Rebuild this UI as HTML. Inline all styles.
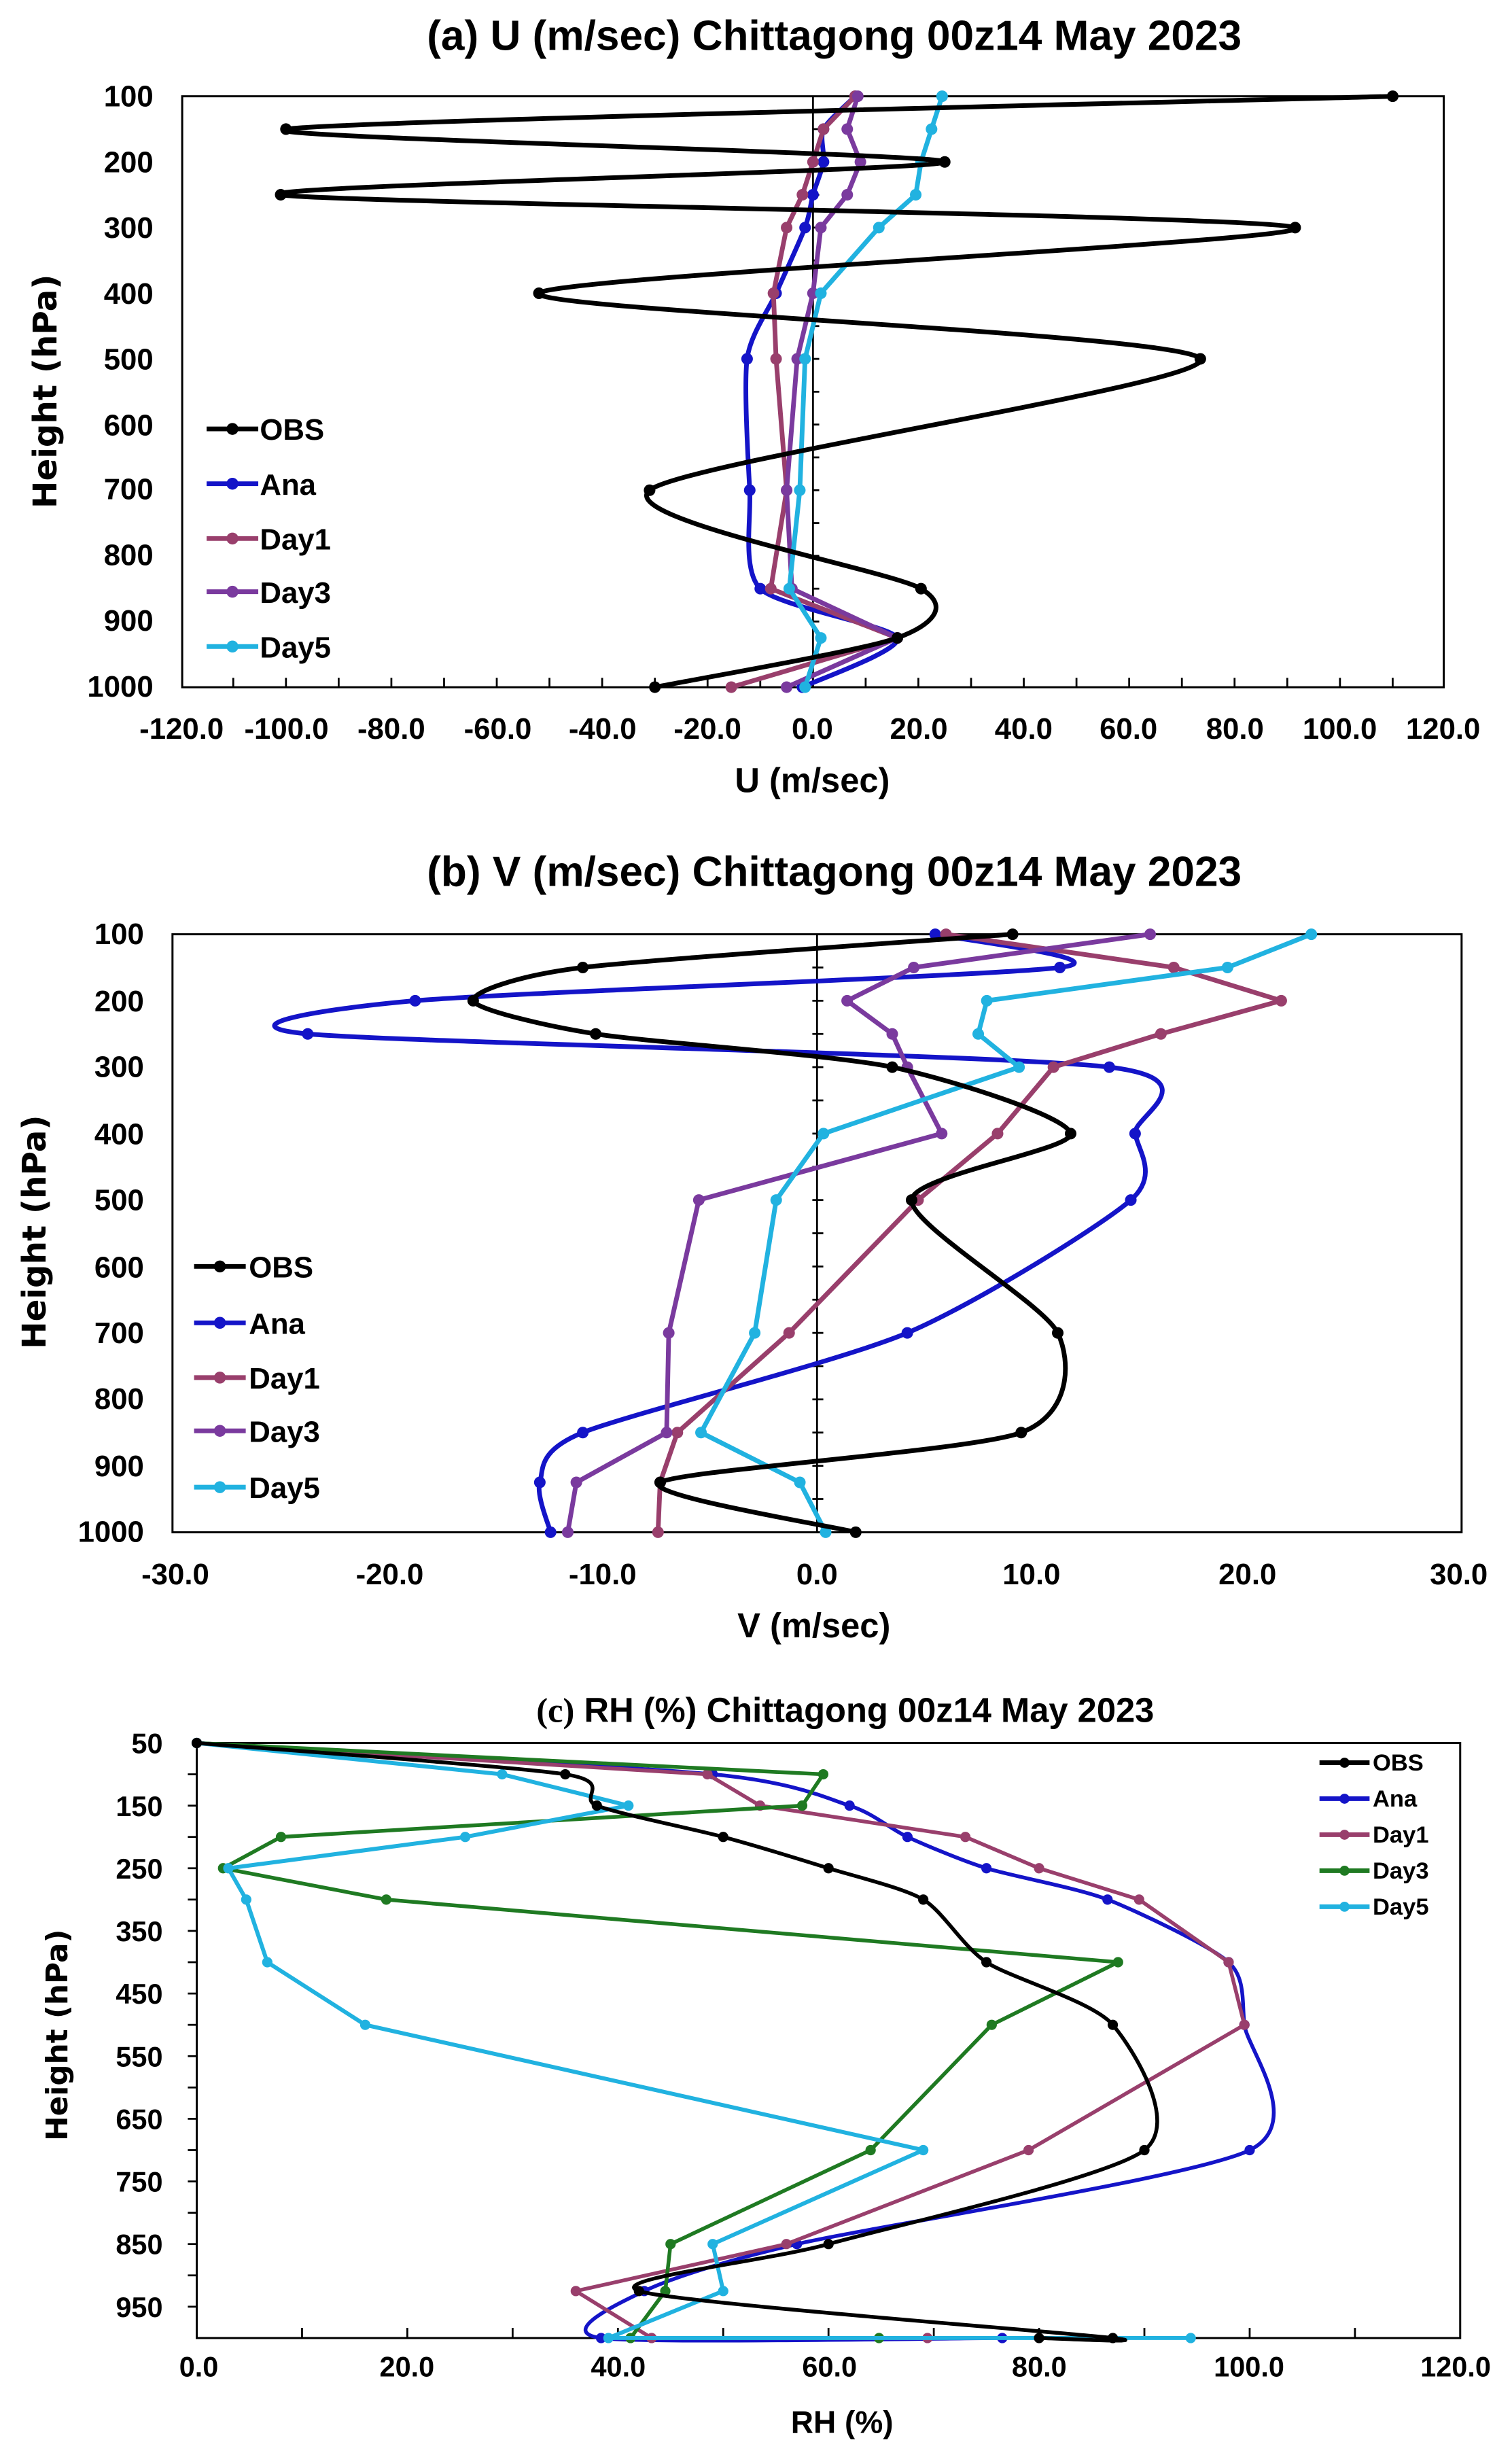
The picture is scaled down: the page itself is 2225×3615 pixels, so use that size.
<!DOCTYPE html>
<html><head><meta charset="utf-8"><style>
html,body{margin:0;padding:0;background:#fff}
svg{display:block}
.t{font-family:"Liberation Sans Narrow","Liberation Sans",sans-serif;font-weight:bold}
.h{font-family:"DejaVu Sans","Liberation Sans",sans-serif;font-weight:bold}
</style></head><body>
<svg id="s" width="2225" height="3615" viewBox="0 0 966 1569.5" preserveAspectRatio="none" xmlns="http://www.w3.org/2000/svg">
<rect width="966" height="1569.5" fill="#fff"/>
<!-- Panel a -->
<text class="t" x="533" y="32" font-size="27" text-anchor="middle">(a) U (m/sec) Chittagong 00z14 May 2023</text>
<rect x="116.4" y="61.5" width="806" height="377.5" fill="none" stroke="#000" stroke-width="1.3"/>
<g class="t" font-size="19" text-anchor="end">
<text x="98" y="68">100</text><text x="98" y="110">200</text><text x="98" y="152">300</text><text x="98" y="194">400</text><text x="98" y="236">500</text><text x="98" y="278">600</text><text x="98" y="319">700</text><text x="98" y="361">800</text><text x="98" y="403">900</text><text x="98" y="445">1000</text>
</g>
<g class="t" font-size="19" text-anchor="middle">
<text x="116" y="472">-120.0</text><text x="183" y="472">-100.0</text><text x="250" y="472">-80.0</text><text x="318" y="472">-60.0</text><text x="385" y="472">-40.0</text><text x="452" y="472">-20.0</text><text x="519" y="472">0.0</text><text x="587" y="472">20.0</text><text x="654" y="472">40.0</text><text x="721" y="472">60.0</text><text x="789" y="472">80.0</text><text x="856" y="472">100.0</text><text x="922" y="472">120.0</text>
</g>
<text class="t" x="519" y="506" font-size="22" text-anchor="middle">U (m/sec)</text>
<text class="h" font-size="21" text-anchor="middle" transform="translate(36,250) rotate(-90)">Height (hPa)</text>
<g id="ga"></g>
<!-- Panel b -->
<text class="t" x="533" y="566" font-size="27" text-anchor="middle">(b) V (m/sec) Chittagong 00z14 May 2023</text>
<rect x="110.2" y="596.8" width="823.6" height="382" fill="none" stroke="#000" stroke-width="1.3"/>
<g class="t" font-size="19" text-anchor="end">
<text x="92" y="603">100</text><text x="92" y="646">200</text><text x="92" y="688">300</text><text x="92" y="731">400</text><text x="92" y="773">500</text><text x="92" y="816">600</text><text x="92" y="858">700</text><text x="92" y="900">800</text><text x="92" y="943">900</text><text x="92" y="985">1000</text>
</g>
<g class="t" font-size="19" text-anchor="middle">
<text x="112" y="1012">-30.0</text><text x="249" y="1012">-20.0</text><text x="385" y="1012">-10.0</text><text x="522" y="1012">0.0</text><text x="659" y="1012">10.0</text><text x="797" y="1012">20.0</text><text x="932" y="1012">30.0</text>
</g>
<text class="t" x="520" y="1046" font-size="22" text-anchor="middle">V (m/sec)</text>
<text class="h" font-size="21" text-anchor="middle" transform="translate(29,787) rotate(-90)">Height (hPa)</text>
<g id="gb"></g>
<!-- Panel c -->
<text x="540" y="1100" font-size="22" text-anchor="middle"><tspan font-family="Liberation Serif,serif" font-weight="bold">(c)</tspan><tspan class="t" font-family="Liberation Sans Narrow,Liberation Sans,sans-serif" font-weight="bold"> RH (%)  Chittagong 00z14 May 2023</tspan></text>
<rect x="125.7" y="1113.4" width="807.2" height="380.1" fill="none" stroke="#000" stroke-width="1.3"/>
<g class="t" font-size="18" text-anchor="end">
<text x="104" y="1120">50</text><text x="104" y="1160">150</text><text x="104" y="1200">250</text><text x="104" y="1240">350</text><text x="104" y="1280">450</text><text x="104" y="1320">550</text><text x="104" y="1360">650</text><text x="104" y="1400">750</text><text x="104" y="1440">850</text><text x="104" y="1480">950</text>
</g>
<g class="t" font-size="18" text-anchor="middle">
<text x="127" y="1518">0.0</text><text x="260" y="1518">20.0</text><text x="395" y="1518">40.0</text><text x="530" y="1518">60.0</text><text x="664" y="1518">80.0</text><text x="798" y="1518">100.0</text><text x="930" y="1518">120.0</text>
</g>
<text class="t" x="538" y="1554" font-size="20" text-anchor="middle">RH (%)</text>
<text class="h" font-size="19" text-anchor="middle" transform="translate(43,1300) rotate(-90)">Height (hPa)</text>
<g id="gc"></g>
<!-- Legends -->
<g class="t" font-size="19">
<text x="166" y="281">OBS</text><text x="166" y="316">Ana</text><text x="166" y="351">Day1</text><text x="166" y="385">Day3</text><text x="166" y="420">Day5</text>
<text x="159" y="816">OBS</text><text x="159" y="852">Ana</text><text x="159" y="887">Day1</text><text x="159" y="921">Day3</text><text x="159" y="957">Day5</text>
</g>
<g class="t" font-size="15">
<text x="877" y="1131">OBS</text><text x="877" y="1154">Ana</text><text x="877" y="1177">Day1</text><text x="877" y="1200">Day3</text><text x="877" y="1223">Day5</text>
</g>
</svg>
<script>
var NS="http://www.w3.org/2000/svg";
function el(g,t,a){var e=document.createElementNS(NS,t);for(var k in a)e.setAttribute(k,a[k]);g.appendChild(e);return e;}
function path(pts,smooth){var d="M"+pts[0][0]+","+pts[0][1];
 if(!smooth){for(var i=1;i<pts.length;i++)d+=" L"+pts[i][0]+","+pts[i][1];return d;}
 var f=8;
 for(var i=0;i<pts.length-1;i++){var p0=pts[Math.max(0,i-1)],p1=pts[i],p2=pts[i+1],p3=pts[Math.min(pts.length-1,i+2)];
  var c1=[p1[0]+(p2[0]-p0[0])/f,p1[1]+(p2[1]-p0[1])/f],c2=[p2[0]-(p3[0]-p1[0])/f,p2[1]-(p3[1]-p1[1])/f];
  d+=" C"+c1+" "+c2+" "+p2;}return d;}
function draw(gid,P,V,X,Y,col,smooth,lw,r){var g=document.getElementById(gid);var pts=[];
 for(var i=0;i<P.length;i++)pts.push([X(V[i]),Y(P[i])]);
 el(g,"path",{d:path(pts,smooth),fill:"none",stroke:col,"stroke-width":lw,"stroke-linejoin":"round"});
 pts.forEach(function(p){el(g,"circle",{cx:p[0],cy:p[1],r:r,fill:col});});}
function ticks(gid,list){var g=document.getElementById(gid);list.forEach(function(l){el(g,"line",{x1:l[0],y1:l[1],x2:l[2],y2:l[3],stroke:"#000","stroke-width":1.2});});}
function legend(gid,x,ys,cols,w,r){var g=document.getElementById(gid);ys.forEach(function(y,i){el(g,"line",{x1:x,y1:y,x2:x+w,y2:y,stroke:cols[i],"stroke-width":3});el(g,"circle",{cx:x+w/2,cy:y,r:r,fill:cols[i]});});}
var C=["#000","#1414c8","#993f6c","#7a3a9e","#21b2e0"];
// Panel a
var Xa=function(u){return 519.4+u*3.367},Ya=function(p){return 61.5+(p-100)*0.4194};
var Pa=[100,150,200,250,300,400,500,700,850,925,1000];
var tl=[];for(var p=150;p<=950;p+=50)tl.push([Xa(0),Ya(p),Xa(0)+4,Ya(p)]);for(var u=-110;u<=110;u+=10)tl.push([Xa(u),439,Xa(u),433]);
tl.push([Xa(0),61.5,Xa(0),439]);ticks("ga",tl);
draw("ga",Pa,[8,2,2,0,-1.5,-7,-12.5,-12,-10,16,-2],Xa,Ya,C[1],true,3,3.7);
draw("ga",Pa,[8,2,0,-2,-5,-7.5,-7,-5,-8,16,-15.5],Xa,Ya,C[2],false,3,3.7);
draw("ga",Pa,[8.5,6.5,9,6.5,1.5,0,-3,-5,-4,16,-5],Xa,Ya,C[3],false,3,3.7);
draw("ga",Pa,[24.5,22.5,20.5,19.5,12.5,1.5,-1.5,-2.5,-4.5,1.5,-1.5],Xa,Ya,C[4],false,3,3.7);
draw("ga",Pa,[110,-100,25,-101,91.5,-52,73.5,-31,20.5,16,-30],Xa,Ya,C[0],true,3,3.7);
legend("ga",132,[274,309,344,378,413],C,33,3.8);
// Panel b
var Xb=function(v){return 522+v*13.73},Yb=function(p){return 596.8+(p-100)*0.4244};
tl=[];for(var p=150;p<=950;p+=50)tl.push([Xb(0)-3,Yb(p),Xb(0)+4,Yb(p)]);tl.push([Xb(0),596.8,Xb(0),978.8]);ticks("gb",tl);
draw("gb",Pa,[5.5,11.3,-18.7,-23.7,13.6,14.8,14.6,4.2,-10.9,-12.9,-12.4],Xb,Yb,C[1],true,3,3.7);
draw("gb",Pa,[6,16.6,21.6,16,11,8.4,4.7,-1.3,-6.5,-7.3,-7.4],Xb,Yb,C[2],false,3,3.7);
draw("gb",Pa,[15.5,4.5,1.4,3.5,4.2,5.8,-5.5,-6.9,-7,-11.2,-11.6],Xb,Yb,C[3],false,3,3.7);
draw("gb",Pa,[23,19.1,7.9,7.5,9.4,0.3,-1.9,-2.9,-5.4,-0.8,0.4],Xb,Yb,C[4],false,3,3.7);
draw("gb",Pa,[9.1,-10.9,-16,-10.3,3.5,11.8,4.4,11.2,9.5,-7.3,1.8],Xb,Yb,C[0],true,3,3.7);
legend("gb",124,[809,845,880,914,950],C,33,3.8);
// Panel c
var Xc=function(v){return 125.7+v*6.727},Yc=function(p){return 1113.4+(p-50)*0.4001};
var Pc=[50,100,150,200,250,300,400,500,700,850,925,1000,1000];
tl=[];for(var p=100;p<=950;p+=50)tl.push([120,Yc(p),125.7,Yc(p)]);for(var v=10;v<=110;v+=10)tl.push([Xc(v),1493.5,Xc(v),1487]);ticks("gc",tl);
var C3=["#000","#1414c8","#993f6c","#1f7a22","#21b2e0"];
draw("gc",Pc,[0,49,62,67.5,75,86.5,98,99.5,100,57,42.5,38.4,76.5],Xc,Yc,C3[1],true,2.4,3.3);
draw("gc",Pc,[0,48.5,53.5,73,80,89.5,98,99.5,79,56,36,43.2,69.4],Xc,Yc,C3[2],false,2.4,3.3);
draw("gc",Pc,[0,59.5,57.5,8,2.5,18,87.5,75.5,64,45,44.5,41.2,64.8],Xc,Yc,C3[3],false,2.4,3.3);
draw("gc",Pc,[0,29,41,25.5,3,4.7,6.7,16,69,49,50,39.1,94.4],Xc,Yc,C3[4],false,2.6,3.3);
draw("gc",Pc,[0,35,38,50,60,69,75,87,90,60,42,87,80],Xc,Yc,C3[0],true,2.4,3.3);
legend("gc",843,[1126,1149,1172,1195,1218],C3,32,3.2);
</script>
</body></html>
